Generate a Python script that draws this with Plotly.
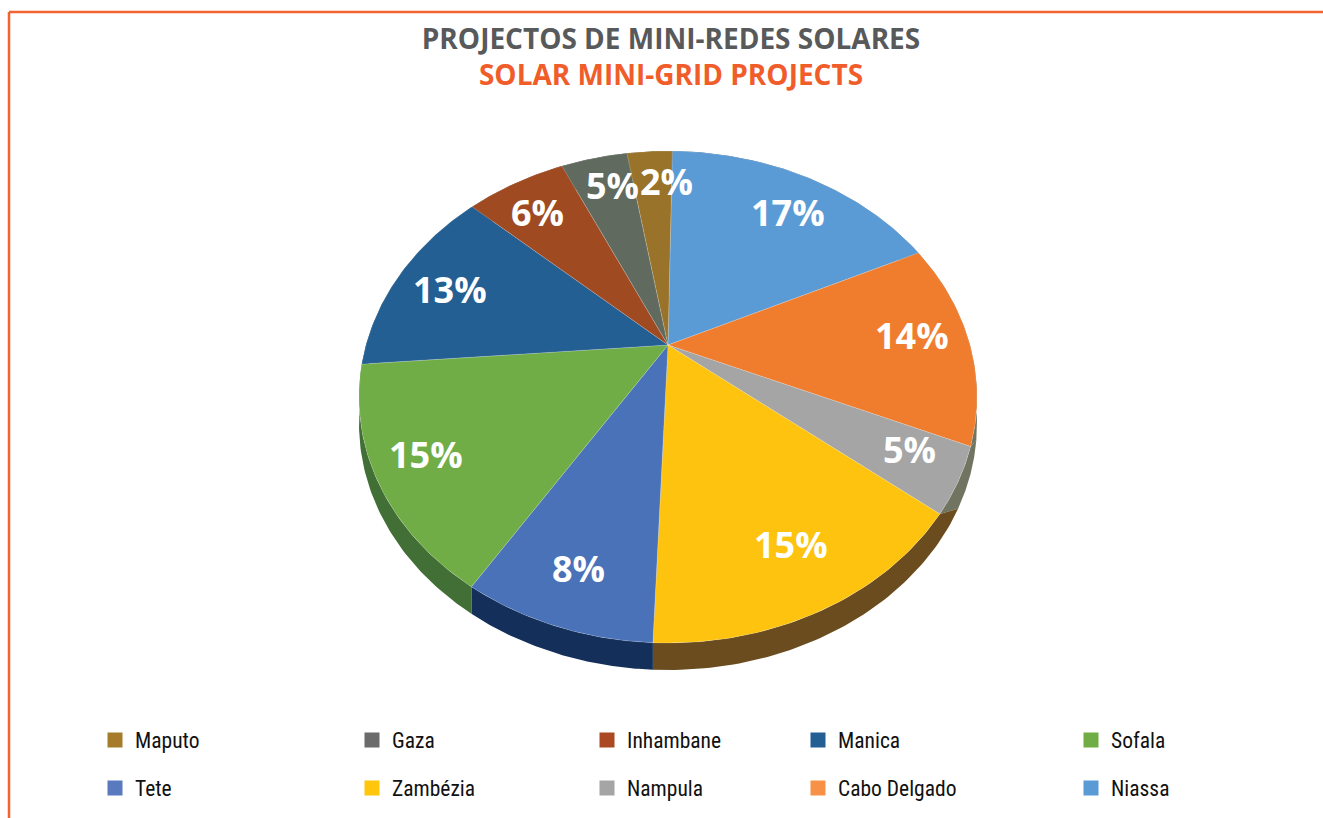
import numpy as np
import plotly.graph_objects as go

# ---- data (clockwise from the top) ----
provinces = ["Niassa", "Cabo Delgado", "Nampula", "Zambézia", "Tete", "Sofala", "Manica", "Inhambane", "Gaza", "Maputo"]
shares = [17.7, 13.5, 4.25, 14.9, 8.35, 14.75, 13.0, 6.4, 4.25, 2.9]
share_labels = ["17%", "14%", "5%", "15%", "8%", "15%", "13%", "6%", "5%", "2%"]

top_colors = ["#5B9BD5", "#F07D2E", "#A5A5A5", "#FEC30F", "#4A72B8", "#70AD47", "#235F93", "#A04A22", "#606A5E", "#997329"]
wall_colors = ["#34597A", "#717461", "#717461", "#6B4C1E", "#14305A", "#426F35", "#143A5A", "#5E2C14", "#3A403A", "#5A4418"]

legend_order = ["Maputo", "Gaza", "Inhambane", "Manica", "Sofala", "Tete", "Zambézia", "Nampula", "Cabo Delgado", "Niassa"]
legend_colors = ["#A67C2A", "#6B6B6B", "#AB4A22", "#235F93", "#70AD47", "#5A7ABF", "#FFC60B", "#A5A5A5", "#F79148", "#5B9BD5"]

# ---- layout constants (pixels of the 1323x818 page) ----
W, H = 1323, 818
APEX_X, APEX_Y = 668, 345
RX, RY, PERSP, DEPTH = 302, 235, 0.2114, 27
START_DEG = 1.0
label_px = [(788, 212), (912, 335), (909, 449), (791, 544), (578, 568),
            (426, 454), (450, 289), (537, 212), (612, 185), (666, 181)]
legend_x = [95, 352, 587, 798, 1071]
legend_y = [740, 788]


def project(theta_deg):
    """Perspective view of the pie's rim."""
    t = np.radians(theta_deg)
    sx, sy = np.sin(t), np.cos(t)
    d = 1 + PERSP * sy
    return APEX_X + RX * sx / d, APEX_Y - RY * sy / d


def lower_rim(theta_deg):
    """Lower edge of the side wall; its seams lean outward on the right."""
    theta_deg = np.asarray(theta_deg, dtype=float)
    lean = 7.5 * np.clip((180 - theta_deg) / 52, 0, 1)
    bx, by = project(theta_deg - lean)
    return bx, by + DEPTH


edges = START_DEG + np.concatenate([[0], np.cumsum(shares)]) / sum(shares) * 360
fig = go.Figure()

# side walls first
for i, name in enumerate(provinces):
    th = np.linspace(edges[i], edges[i + 1], 70)
    ax, ay = project(th)
    bx, by = lower_rim(th)
    fig.add_trace(go.Scatter(
        x=np.concatenate([ax, bx[::-1]]), y=np.concatenate([ay, by[::-1]]),
        mode="lines", fill="toself", fillcolor=wall_colors[i],
        line=dict(width=0), hoverinfo="skip", showlegend=False))

# top faces
for i, name in enumerate(provinces):
    ax, ay = project(np.linspace(edges[i], edges[i + 1], 70))
    fig.add_trace(go.Scatter(
        x=np.concatenate([[APEX_X], ax, [APEX_X]]), y=np.concatenate([[APEX_Y], ay, [APEX_Y]]),
        mode="lines", fill="toself", fillcolor=top_colors[i],
        line=dict(width=0.5, color="rgba(255,255,255,0.35)"),
        name=name, hoverinfo="name+text", text=share_labels[i], showlegend=False))

# legend: one small legend per entry, because its columns are uneven
layout_legends = {}
for i, (name, col) in enumerate(zip(legend_order, legend_colors)):
    key = "legend" if i == 0 else f"legend{i + 1}"
    fig.add_trace(go.Scatter(
        x=[None], y=[None], mode="markers", name=name, legend=key,
        marker=dict(symbol="square", size=15, color=col), showlegend=True))
    layout_legends[key] = dict(
        x=legend_x[i % 5] / W, y=1 - legend_y[i // 5] / H, xanchor="left", yanchor="middle",
        bgcolor="rgba(0,0,0,0)", borderwidth=0,
        font=dict(family="Liberation Sans Narrow, Roboto Condensed, Roboto", size=21.5, color="#111111"),
        itemwidth=30)

annotations = [
    dict(x=px, y=py, xref="x", yref="y", text=f"<b>{lab}</b>", showarrow=False,
         font=dict(family="Open Sans", size=36, color="white"), xanchor="center", yanchor="middle")
    for lab, (px, py) in zip(share_labels, label_px)
]

fig.update_layout(
    width=W, height=H, margin=dict(l=0, r=0, t=0, b=0),
    paper_bgcolor="white", plot_bgcolor="white",
    title=dict(
        text="<b><span style='color:#58595B'>PROJECTOS DE MINI-REDES SOLARES</span><br>"
             "<span style='color:#F15D2A'>SOLAR MINI-GRID PROJECTS</span></b>",
        x=671 / W, xanchor="center", y=1 - 49 / H, yanchor="top",
        font=dict(family="Open Sans", size=28)),
    xaxis=dict(range=[0, W], visible=False, fixedrange=True),
    yaxis=dict(range=[H, 0], visible=False, fixedrange=True),
    annotations=annotations,
    shapes=[
        dict(type="line", x0=9, y0=12, x1=W, y1=12, line=dict(color="#F26532", width=2.5)),
        dict(type="line", x0=9, y0=12, x1=9, y1=H, line=dict(color="#F26532", width=2.5)),
    ],
    **layout_legends,
)

fig.write_html("out.html", config={"displayModeBar": False},
               post_script="document.body.style.margin='0';document.body.style.overflow='hidden';")
